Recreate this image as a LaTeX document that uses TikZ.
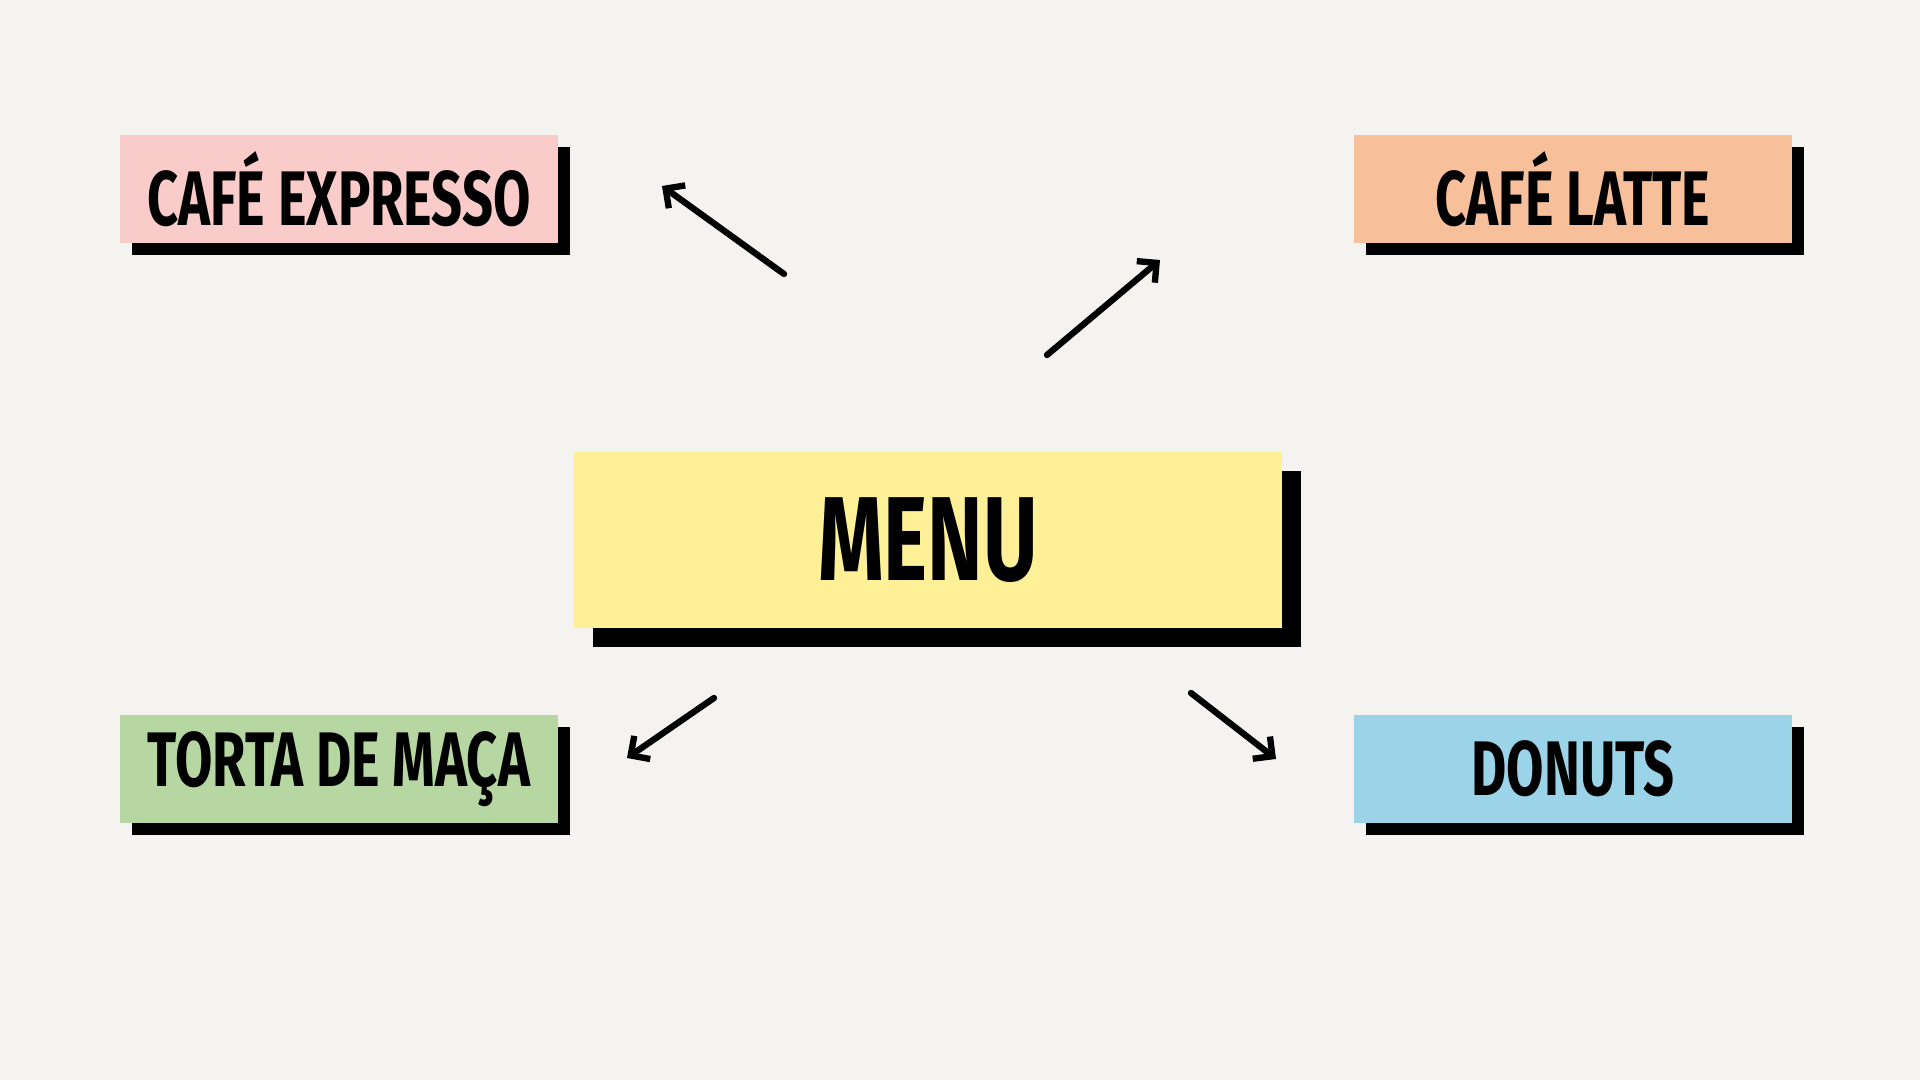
\documentclass[tikz,border=0pt]{standalone}
\usepackage{fontspec}
\newfontfamily\boxfont{Fira Sans}[FakeStretch=0.7]
\usetikzlibrary{arrows.meta,shadows}
\definecolor{paper}{HTML}{F5F3F0}
\definecolor{expresso}{HTML}{F9CCCA}
\definecolor{latte}{HTML}{F8C09A}
\definecolor{menuyellow}{HTML}{FEF097}
\definecolor{torta}{HTML}{B6D7A1}
\definecolor{donuts}{HTML}{9BD3E8}
\begin{document}
\begin{tikzpicture}[x=0.01cm,y=-0.01cm,
  item/.style={minimum width=4.38cm,minimum height=1.07cm,inner sep=0pt,
    font=\boxfont\bfseries\fontsize{22}{26}\selectfont,
    drop shadow={shadow xshift=0.12cm,shadow yshift=-0.12cm,fill=black,opacity=1}},
  pointer/.style={line width=1.8pt,line cap=round,
    -{Straight Barb[length=4pt,width=8pt,line width=1.8pt]}}]
\fill[paper] (0,0) rectangle (1920,1080);
\useasboundingbox (0,0) rectangle (1920,1080);
% menu
\node[minimum width=7.07cm,minimum height=1.76cm,inner sep=0pt,fill=menuyellow,
  font=\boxfont\bfseries\fontsize{34}{40}\selectfont,
  drop shadow={shadow xshift=0.19cm,shadow yshift=-0.19cm,fill=black,opacity=1}]
  (menu) at (928,540) {MENU};
% items
\node[item,fill=expresso] (expresso) at (339,189) {CAFÉ EXPRESSO};
\node[item,fill=latte] (latte) at (1573,189) {CAFÉ LATTE};
\node[item,fill=torta] (torta) at (339,769) {TORTA DE MAÇA};
\node[item,fill=donuts] (donuts) at (1573,769) {DONUTS};
% arrows
\coordinate (a1) at (784,274); \coordinate (b1) at (662,186);
\coordinate (a2) at (1047,355); \coordinate (b2) at (1160,260);
\coordinate (a3) at (714,698); \coordinate (b3) at (627,758);
\coordinate (a4) at (1191,693); \coordinate (b4) at (1276,759);
\draw[pointer] (a1) -- (b1);
\draw[pointer] (a2) -- (b2);
\draw[pointer] (a3) -- (b3);
\draw[pointer] (a4) -- (b4);
\end{tikzpicture}
\end{document}
